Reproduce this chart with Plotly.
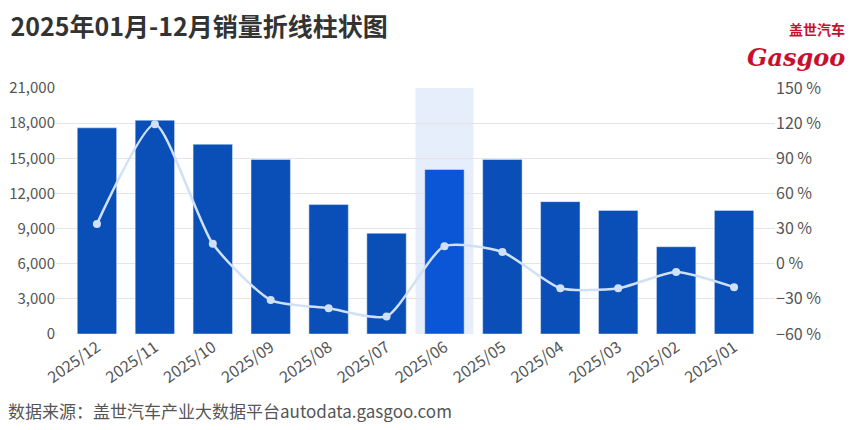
import plotly.graph_objects as go

months = ["2025/12","2025/11","2025/10","2025/09","2025/08","2025/07","2025/06","2025/05","2025/04","2025/03","2025/02","2025/01"]
sales = [17600,18250,16200,14900,11050,8600,14050,14900,11300,10550,7450,10550]
growth = [34,119,17,-31,-38,-45,15,10,-21,-21,-7,-20]
highlight = "2025/06"

colors = ["#0b56d6" if m == highlight else "#0a4fb8" for m in months]

fig = go.Figure()
fig.add_trace(go.Bar(x=months, y=sales, marker_color=colors, width=0.68, yaxis="y"))
fig.add_trace(go.Scatter(x=months, y=growth, mode="lines+markers", yaxis="y2",
                         line=dict(color="#cfe0f7", width=2.5, shape="spline", smoothing=0.6),
                         marker=dict(color="#cfe0f7", size=8)))
fig.add_vrect(x0=5.5, x1=6.5, fillcolor="#e6eefb", line_width=0, layer="below")

fig.update_layout(
    width=859, height=430, showlegend=False, plot_bgcolor="white", paper_bgcolor="white",
    margin=dict(l=48, r=92, t=80, b=104),
    font=dict(family="Noto Sans CJK SC", color="#555", size=16),
    title=dict(text="<b>2025年01月-12月销量折线柱状图</b>", x=0.003, y=0.975, yanchor="top",
               font=dict(size=25, color="#333")),
    xaxis=dict(tickangle=-35, showgrid=False, showline=False, tickfont=dict(size=16), automargin=False),
    yaxis=dict(range=[0,21000], dtick=3000, tickformat=",", gridcolor="#e5e5e5", zeroline=False,
               automargin=False, tickfont=dict(size=15), ticklabelstandoff=0),
    yaxis2=dict(range=[-60,150], dtick=30, overlaying="y", side="right", showgrid=False,
                ticksuffix=" %", zeroline=False, automargin=False),
    bargap=0.3,
)
fig.add_annotation(text="数据来源：盖世汽车产业大数据平台autodata.gasgoo.com", xref="paper", yref="paper",
                   x=-0.07, y=-0.37, xanchor="left", showarrow=False, font=dict(size=17, color="#555"))
fig.add_annotation(text="<b>盖世汽车</b>", xref="paper", yref="paper", x=1.1, y=1.29, xanchor="right",
                   showarrow=False, font=dict(size=14, color="#c8102e"))
fig.add_annotation(text="<b><i>Gasgoo</i></b>", xref="paper", yref="paper", x=1.1, y=1.19, xanchor="right",
                   showarrow=False, font=dict(size=24, color="#c8102e", family="DejaVu Serif"))
fig.write_html("out.html")
